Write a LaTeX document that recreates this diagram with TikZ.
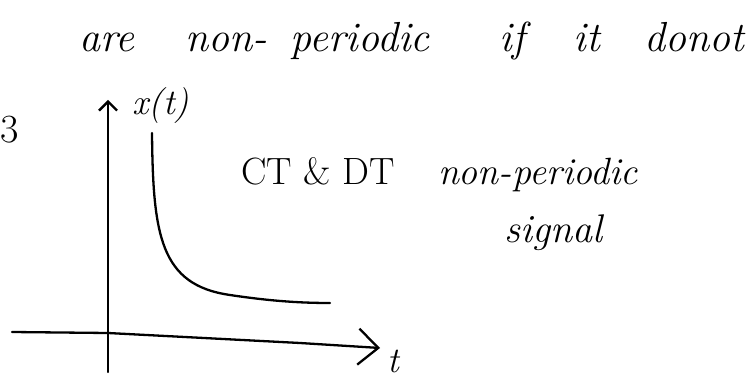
\documentclass[tikz,border=0pt]{standalone}
\usepackage{fontspec}
\usetikzlibrary{arrows.meta}
\begin{document}
\begin{tikzpicture}[x=1pt,y=-1pt,
  hw/.style={font=\fontsize{42}{48}\selectfont\itshape, inner sep=0pt, anchor=base},
  hwm/.style={font=\fontsize{38}{44}\selectfont\itshape, inner sep=0pt, anchor=base},
  pen/.style={line width=2.3pt, line cap=round, line join=round}]
\useasboundingbox (0,0) rectangle (754,379);
% top line
\node[hw] (w1) at (107,52) {are};
\node[hw] (w2) at (226,52) {non-};
\node[hw] (w3) at (360,52) {periodic};
\node[hw] (w4) at (512,52) {if};
\node[hw] (w5) at (587,52) {it};
\node[hw] (w6) at (694,52) {donot};
% fragment at left edge
\node[font=\fontsize{40}{44}\selectfont, inner sep=0pt, anchor=base west] (frag) at (0,143) {3};
% axes
\coordinate (yb) at (108,372);
\coordinate (yt) at (108,100);
\coordinate (xl) at (12,332);
\coordinate (xr) at (380,348);
\draw[pen, -{Straight Barb[length=9pt,width=18pt,line width=2.3pt]}] (yb) -- (yt);
\draw[pen, -{Straight Barb[length=20pt,width=36pt,line width=2.3pt]}] (xl) -- (108,333) -- (300,343) -- (xr);
\node[font=\fontsize{36}{40}\selectfont\itshape, inner sep=0pt] (xt) at (161,106) {x(t)};
\node[font=\fontsize{36}{40}\selectfont\itshape, inner sep=0pt, anchor=base] (tl) at (393,372) {t};
% curve
\coordinate (c0) at (152,133);
\coordinate (c1) at (330,303);
\draw[pen] (c0) .. controls (153,235) and (160,285) .. (230,295)
  .. controls (270,301) and (300,303) .. (c1);
% side text
\node[hwm] (ct) at (318,185) {\upshape CT \& DT};
\node[hwm] (np) at (538,185) {non-periodic};
\node[hwm, font=\fontsize{40}{46}\selectfont\itshape] (sg) at (553,243) {signal};
\end{tikzpicture}
\end{document}
